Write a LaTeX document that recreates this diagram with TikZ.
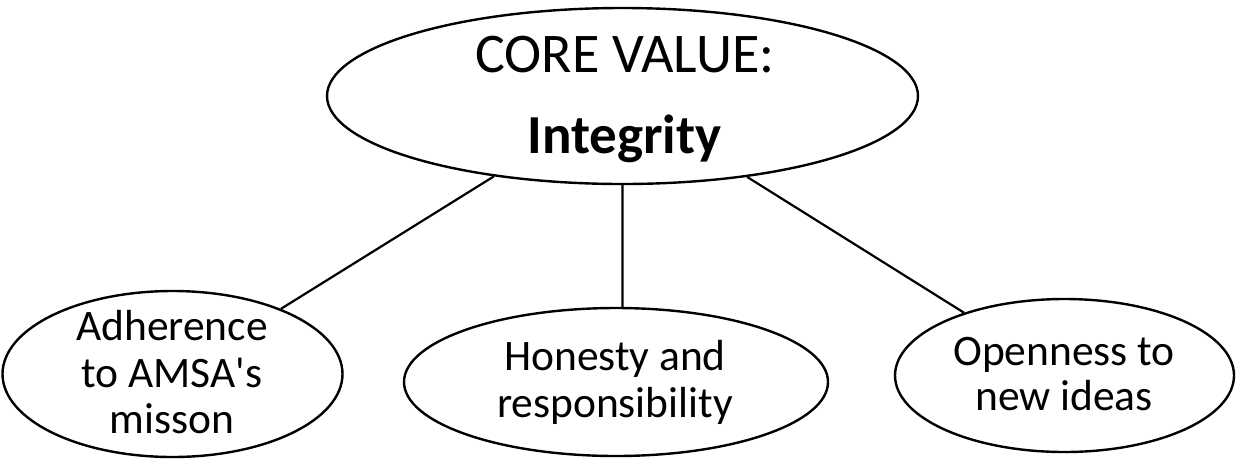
\documentclass[tikz,border=0pt]{standalone}
\usepackage{fontspec}
\setmainfont{Carlito}
\usetikzlibrary{shapes.geometric}
\begin{document}
\begin{tikzpicture}[x=1pt,y=-1pt,
  bubble/.style={draw=black, line width=2.4pt, ellipse, inner sep=0pt},
  link/.style={draw=black, line width=2.2pt},
  bigtxt/.style={anchor=base, inner sep=0pt, font=\fontsize{56}{64}\selectfont},
  subtxt/.style={anchor=base, inner sep=0pt, font=\fontsize{43.5}{48}\selectfont}]
  \useasboundingbox (0,0) rectangle (1236,459);
  \fill[white] (0,0) rectangle (1236,459);

  % ellipses
  \node[bubble, minimum width=591pt, minimum height=176pt] (core) at (622.5,96) {};
  \node[bubble, minimum width=340pt, minimum height=166pt] (adh) at (172.5,374) {};
  \node[bubble, minimum width=424pt, minimum height=148pt] (hon) at (616,382) {};
  \node[bubble, minimum width=339pt, minimum height=153pt] (open) at (1064.5,375.5) {};

  % texts
  \node[bigtxt] (coreA) at (625,72) {CORE VALUE:};
  \node[bigtxt, font=\fontsize{55}{64}\selectfont\bfseries] (coreB) at (624.5,153) {Integrity};

  \node[subtxt] (adhA) at (172,340) {Adherence};
  \node[subtxt] (adhB) at (172,387) {to AMSA\textquotesingle s};
  \node[subtxt] (adhC) at (172,433) {misson};

  \node[subtxt] (honA) at (615,370) {Honesty and};
  \node[subtxt] (honB) at (615,417) {responsibility};

  \node[subtxt] (openA) at (1064,365) {Openness to};
  \node[subtxt] (openB) at (1064,410) {new ideas};

  % connectors
  \draw[link] (core.212) -- (adh.31.8);
  \draw[link] (core.270) -- (hon.85.4);
  \draw[link] (core.327.9) -- (open.148.3);
\end{tikzpicture}
\end{document}
